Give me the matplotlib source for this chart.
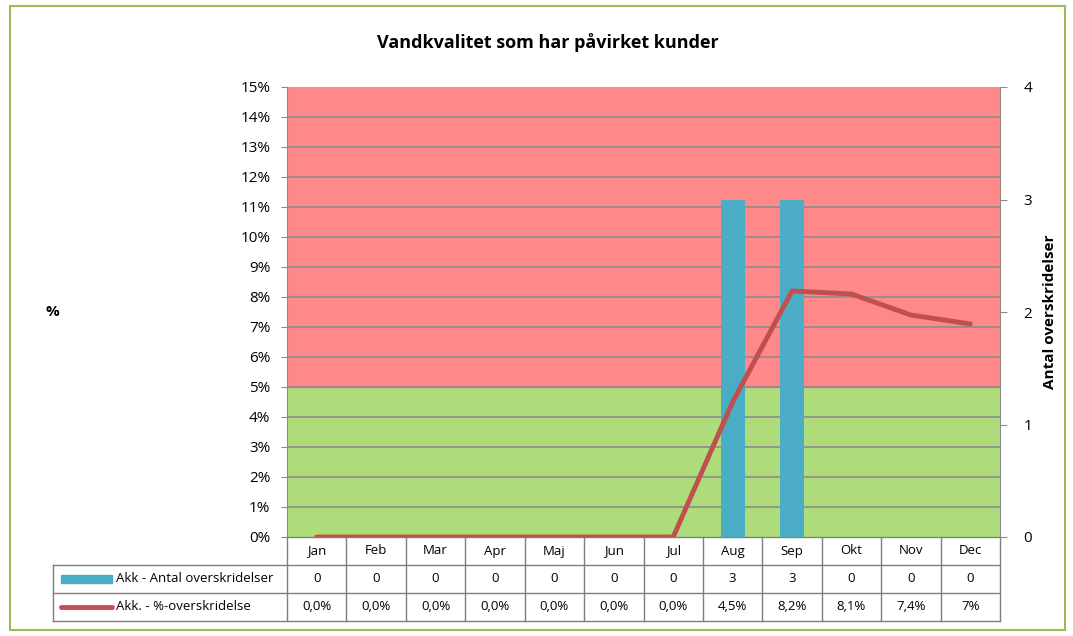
import numpy as np
import matplotlib.pyplot as plt
from matplotlib.lines import Line2D
from matplotlib.patches import Rectangle
import matplotlib.transforms as mtransforms

plt.rcParams['font.family'] = ['Open Sans', 'DejaVu Sans']

months = ['Jan', 'Feb', 'Mar', 'Apr', 'Maj', 'Jun', 'Jul', 'Aug', 'Sep', 'Okt', 'Nov', 'Dec']
antal = [0, 0, 0, 0, 0, 0, 0, 3, 3, 0, 0, 0]
pct = [0, 0, 0, 0, 0, 0, 0, 4.5, 8.2, 8.1, 7.4, 7.1]
pct_labels = ['0,0%', '0,0%', '0,0%', '0,0%', '0,0%', '0,0%', '0,0%', '4,5%', '8,2%', '8,1%', '7,4%', '7%']
series_names = ['Akk - Antal overskridelser', 'Akk. - %-overskridelse']
green_limit = 5

bar_color = '#4BACC6'
line_color = '#C0504D'
red_bg = '#FF8888'
green_bg = '#AEDC7B'
grid_color = '#8C8C8C'
W, H = 1073, 636

fig = plt.figure(figsize=(W / 100, H / 100), dpi=100)
fig.patch.set_facecolor('white')
fig.patches.append(Rectangle((10 / W, 6 / H), 1055 / W, 624 / H, transform=fig.transFigure,
                             fill=False, edgecolor='#9BBB59', linewidth=1.5))

ax = fig.add_axes([287 / W, (H - 537) / H, 713 / W, 450 / H])
ax2 = ax.twinx()

x = np.arange(len(months))
ax.set_xlim(-0.5, len(months) - 0.5)
ax.set_ylim(0, 15)
ax.axhspan(0, green_limit, color=green_bg, zorder=0)
ax.axhspan(green_limit, 15, color=red_bg, zorder=0)
for yv in range(1, 15):
    ax.axhline(yv, color=grid_color, linewidth=1.2, zorder=1)
ax.set_yticks(range(0, 16))
ax.set_yticklabels([f'{v}%' for v in range(0, 16)], fontsize=11)
ax.set_xticks([])
ax.tick_params(axis='y', length=4, color=grid_color, pad=8)
for s in ['top', 'bottom', 'right']:
    ax.spines[s].set_visible(False)
ax.spines['left'].set_color(grid_color)

ax2.set_ylim(0, 4)
ax2.bar(x, antal, width=0.4, color=bar_color, zorder=2)
ax2.plot(x, np.array(pct) * 4 / 15, color=line_color, linewidth=3.5, zorder=3,
         solid_capstyle='round')
ax2.set_yticks(range(0, 5))
ax2.set_yticklabels([str(v) for v in range(0, 5)], fontsize=11)
ax2.tick_params(axis='y', length=5, color=grid_color, pad=12)
for s in ['top', 'bottom', 'left']:
    ax2.spines[s].set_visible(False)
ax2.spines['right'].set_color(grid_color)
ax2.set_ylabel('Antal overskridelser', fontsize=11, fontweight='bold', labelpad=8)

fig.text(52 / W, 1 - 312 / H, '%', fontsize=11, fontweight='bold', ha='center', va='center')
fig.text(548 / W, 1 - 43 / H, 'Vandkvalitet som har påvirket kunder', fontsize=13,
         fontweight='bold', ha='center', va='center')

# data table below the plot
trans = mtransforms.blended_transform_factory(ax.transData, ax.transAxes)
row_h = 28 / 450
legend_left = -0.5 - (287 - 53) / 713 * len(months)
tcolor = '#7F7F7F'
rows_y = [0, -row_h, -2 * row_h, -3 * row_h]
for i, yv in enumerate(rows_y):
    x0 = -0.5 if i == 0 else legend_left
    ax.add_line(Line2D([x0, len(months) - 0.5], [yv, yv], transform=trans, color=tcolor,
                       linewidth=1, clip_on=False))
for i in range(len(months) + 1):
    ax.add_line(Line2D([i - 0.5, i - 0.5], [0, rows_y[-1]], transform=trans, color=tcolor,
                       linewidth=1, clip_on=False))
ax.add_line(Line2D([legend_left, legend_left], [rows_y[1], rows_y[-1]], transform=trans,
                   color=tcolor, linewidth=1, clip_on=False))

for i, m in enumerate(months):
    ax.text(i, -0.5 * row_h, m, transform=trans, ha='center', va='center', fontsize=9.5)
    ax.text(i, -1.5 * row_h, str(antal[i]), transform=trans, ha='center', va='center', fontsize=9.5)
    ax.text(i, -2.5 * row_h, pct_labels[i], transform=trans, ha='center', va='center', fontsize=9.5)

key_x0 = legend_left + 0.13
key_x1 = legend_left + 1.0
ax.add_patch(Rectangle((key_x0, -1.5 * row_h - 0.009), key_x1 - key_x0, 0.018, transform=trans,
                       color=bar_color, clip_on=False))
ax.add_line(Line2D([key_x0, key_x1], [-2.5 * row_h, -2.5 * row_h], transform=trans,
                   color=line_color, linewidth=3.5, solid_capstyle='round', clip_on=False))
ax.text(key_x1 + 0.06, -1.5 * row_h, series_names[0], transform=trans, ha='left', va='center',
        fontsize=9.5)
ax.text(key_x1 + 0.06, -2.5 * row_h, series_names[1], transform=trans, ha='left', va='center',
        fontsize=9.5)

fig.savefig('out.png', dpi=100)
